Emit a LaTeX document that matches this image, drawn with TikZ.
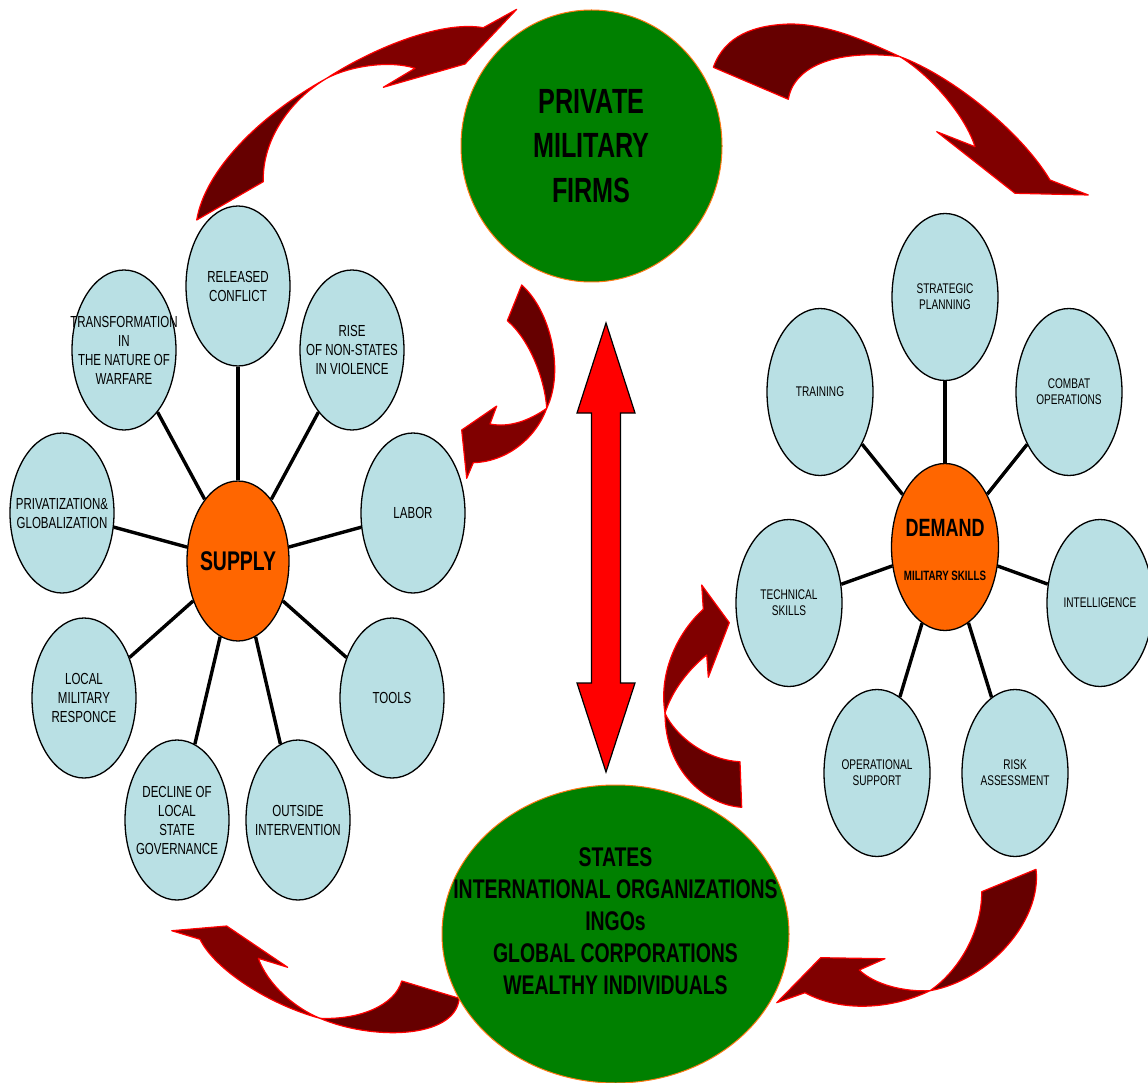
\documentclass[tikz,border=0pt]{standalone}
\usepackage{fontspec}
\setmainfont{Liberation Sans}[FakeStretch=0.72]
\usetikzlibrary{shapes.geometric}
\definecolor{bub}{RGB}{185,224,228}
\definecolor{hubc}{RGB}{255,102,0}
\definecolor{grn}{RGB}{0,128,0}
\definecolor{tailc}{RGB}{102,0,0}
\definecolor{headc}{RGB}{128,0,0}
\definecolor{rimc}{RGB}{255,120,20}
\begin{document}
\begin{tikzpicture}[x=1pt,y=-1pt,
  tailpart/.style={fill=tailc, draw=red, line width=1.2pt, line join=round},
  headpart/.style={fill=headc, draw=red, line width=1.2pt, line join=round},
  bubL/.style={ellipse, draw=black, line width=1.3pt, fill=bub, inner sep=0pt, minimum width=104pt, minimum height=160pt},
  bubR/.style={ellipse, draw=black, line width=1.3pt, fill=bub, inner sep=0pt, minimum width=106pt, minimum height=167pt},
  lblL/.style={align=center, inner sep=0pt, font=\fontsize{16}{19}\selectfont},
  lblR/.style={align=center, inner sep=0pt, font=\fontsize{14}{16}\selectfont},
  hubnode/.style={ellipse, draw=black, line width=1.3pt, fill=hubc, inner sep=0pt},
  bigc/.style={ellipse, draw=rimc, line width=1pt, fill=grn, inner sep=0pt},
  conn/.style={line width=3.4pt, draw=black}]
\useasboundingbox (0,0) rectangle (1148,1083);

% ---------- curved arrows ----------
% arrow 1 (supply -> PMF)
\path[tailpart] (196.7,220) .. controls (205,170) and (260,115) .. (326.7,78.3)
  .. controls (290,100) and (262,140) .. (263.3,181.7) -- cycle;
\path[headpart] (326.7,78.3) .. controls (370,50) and (440,20) .. (483.3,27.7)
  -- (516.7,9.3) -- (465,64) -- (383.3,87.3) -- (415,68.3)
  .. controls (390,60) and (350,66) .. (326.7,78.3) -- cycle;
% arrow 2 (PMF -> demand)
\path[tailpart] (713.3,67.3) .. controls (725,35) and (755,25) .. (790,24)
  .. controls (830,24) and (870,43) .. (900,56.7)
  .. controls (850,50) and (795,60) .. (788.3,99.3) -- cycle;
\path[headpart] (900,56.7) .. controls (950,75) and (1020,130) .. (1050,180)
  -- (1088.3,195) -- (1015,193.3) -- (936.7,131.7) -- (975,146.7)
  .. controls (965,115) and (930,75) .. (900,56.7) -- cycle;
% arrow 3 (PMF -> supply)
\path[tailpart] (521.7,285) .. controls (550,310) and (565,370) .. (546.7,408.3)
  .. controls (545,380) and (530,340) .. (507.3,320.7) -- cycle;
\path[headpart] (546.7,408.3) .. controls (535,440) and (505,462) .. (473.3,462.7)
  -- (466.7,478.3) -- (461.7,430) -- (496.7,406) -- (490,424)
  .. controls (510,428) and (530,420) .. (546.7,408.3) -- cycle;
% arrow 4 (clients -> demand)
\path[tailpart] (741.7,807.3) .. controls (705,805) and (665,770) .. (665,713.3)
  .. controls (675,735) and (705,760) .. (740,761.7) -- cycle;
\path[headpart] (665,713.3) .. controls (658,670) and (680,630) .. (703.3,609.3)
  -- (701.7,585) -- (729.3,622.7) -- (708.3,677.3) -- (706.7,655)
  .. controls (690,668) and (672,690) .. (665,713.3) -- cycle;
% arrow 5 (demand -> clients)
\path[tailpart] (1036,869.3) .. controls (1042,920) and (990,980) .. (930,990.7)
  .. controls (960,970) and (982,930) .. (981.7,891.7) -- cycle;
\path[headpart] (930,990.7) .. controls (890,1010) and (840,1012) .. (805,992.7)
  -- (776.7,1002.7) -- (820.7,957.7) -- (885,958.7) -- (859.3,970)
  .. controls (875,985) and (905,992) .. (930,990.7) -- cycle;
% arrow 6 (clients -> supply)
\path[tailpart] (459.3,998.3) .. controls (455,1040) and (370,1040) .. (320,1018.3)
  .. controls (360,1020) and (395,1005) .. (401.7,981) -- cycle;
\path[headpart] (320,1018.3) .. controls (270,1005) and (215,970) .. (200,939.3)
  -- (171.7,930.7) -- (226.7,926) -- (287.7,967.3) -- (258.3,958.3)
  .. controls (268,985) and (295,1008) .. (320,1018.3) -- cycle;

% ---------- red double arrow ----------
\filldraw[fill=red, draw=black, line width=1.2pt, line join=miter]
  (606,323) -- (635,413) -- (620.5,413) -- (620.5,683) -- (635,683) -- (606,772)
  -- (577,683) -- (591.5,683) -- (591.5,413) -- (577,413) -- cycle;

% ---------- big circles ----------
\node[bigc, minimum width=261pt, minimum height=272pt,
  label={[align=center, inner sep=0pt, font=\fontsize{35}{44.5}\selectfont\bfseries]center:PRIVATE\\MILITARY\\FIRMS}] (pmf) at (591.5,146) {};
\node[bigc, minimum width=347pt, minimum height=298pt,
  label={[align=center, inner sep=0pt, yshift=13pt, font=\fontsize{27}{32}\selectfont\bfseries]center:STATES\\INTERNATIONAL ORGANIZATIONS\\INGOs\\GLOBAL CORPORATIONS\\WEALTHY INDIVIDUALS}] (clients) at (615.5,934) {};

% ---------- supply cluster ----------
\node[bubL, label={[lblL]center:RELEASED\\CONFLICT}] (rel) at (238,286) {};
\node[bubL, label={[lblL]center:TRANSFORMATION\\IN\\THE NATURE OF\\WARFARE}] (trans) at (124,350) {};
\node[bubL, label={[lblL]center:RISE\\OF NON-STATES\\IN VIOLENCE}] (rise) at (352,350) {};
\node[bubL, label={[lblL]center:PRIVATIZATION\&\\GLOBALIZATION}] (priv) at (62,513) {};
\node[bubL, label={[lblL]center:LABOR}] (labor) at (413,513) {};
\node[bubL, label={[lblL]center:LOCAL\\MILITARY\\RESPONCE}] (local) at (84,698) {};
\node[bubL, label={[lblL]center:TOOLS}] (tools) at (392,698) {};
\node[bubL, label={[lblL]center:DECLINE OF\\LOCAL\\STATE\\GOVERNANCE}] (decl) at (177,820) {};
\node[bubL, label={[lblL]center:OUTSIDE\\INTERVENTION}] (outs) at (298,820) {};
\node[hubnode, minimum width=102pt, minimum height=160pt,
  label={[inner sep=0pt, font=\fontsize{27}{32}\selectfont\bfseries]center:SUPPLY}] (supply) at (238,561) {};
\foreach \n in {rel,trans,rise,priv,labor,local,tools,decl,outs} \draw[conn] (supply) -- (\n);

% ---------- demand cluster ----------
\node[bubR, label={[lblR]center:STRATEGIC\\PLANNING}] (strat) at (945,297) {};
\node[bubR, label={[lblR]center:TRAINING}] (train) at (820,392) {};
\node[bubR, label={[lblR]center:COMBAT\\OPERATIONS}] (combat) at (1069,392) {};
\node[bubR, label={[lblR]center:TECHNICAL\\SKILLS}] (tech) at (789,603) {};
\node[bubR, label={[lblR]center:INTELLIGENCE}] (intel) at (1100,603) {};
\node[bubR, label={[lblR]center:OPERATIONAL\\SUPPORT}] (oper) at (877,773) {};
\node[bubR, label={[lblR]center:RISK\\ASSESSMENT}] (risk) at (1015,773) {};
\node[hubnode, minimum width=107pt, minimum height=167pt,
  label={[inner sep=0pt, yshift=19pt, font=\fontsize{25}{30}\selectfont\bfseries]center:DEMAND},
  label={[inner sep=0pt, yshift=-29pt, font=\fontsize{13.5}{16}\selectfont\bfseries]center:MILITARY SKILLS}] (demand) at (945,547) {};
\foreach \n in {strat,train,combat,tech,intel,oper,risk} \draw[conn] (demand) -- (\n);
\end{tikzpicture}
\end{document}
